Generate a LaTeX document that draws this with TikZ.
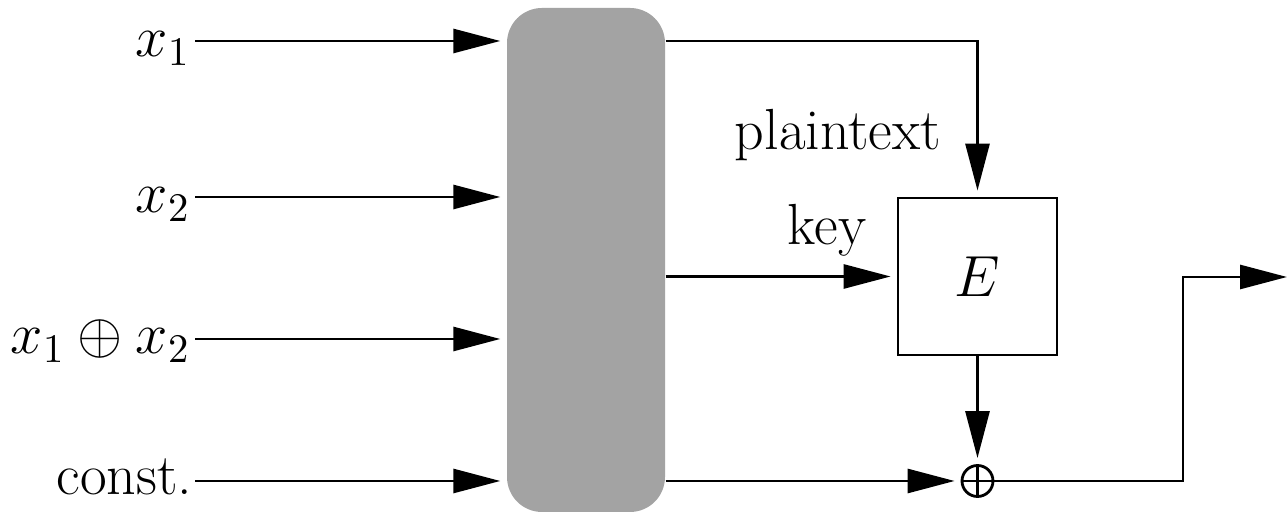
\RequirePackage{fix-cm}
\documentclass[tikz,border=0pt]{standalone}
\usepackage{fontspec}
\usetikzlibrary{arrows.meta,calc}
\definecolor{mixgray}{RGB}{163,163,163}
\tikzset{
  every node/.style={font=\fontsize{16.5}{19}\selectfont},
  arr/.style={line width=0.8pt,-{Triangle[length=0.47cm,width=0.24cm]},shorten >=0.06cm},
  conn/.style={line width=0.8pt},
  lab/.style={inner sep=0pt,anchor=base east},
  txt/.style={inner sep=0pt,anchor=base},
  mixbox/.style={fill=mixgray,draw=none,rounded corners=0.35cm,minimum width=1.58cm,minimum height=5.04cm,inner sep=0pt},
  encbox/.style={draw,line width=0.8pt,minimum width=1.59cm,minimum height=1.57cm,inner sep=0pt},
  xorop/.style={circle,draw,line width=0.8pt,minimum size=0.31cm,inner sep=0pt,
    path picture={\draw[line width=0.8pt] (path picture bounding box.north) -- (path picture bounding box.south)
      (path picture bounding box.west) -- (path picture bounding box.east);}}
}
\begin{document}
\begin{tikzpicture}
\useasboundingbox (0,0) rectangle (12.87,-5.12);
% mixing block
\node[mixbox] (mix) at (5.86,-2.60) {};
% input start points and labels
\coordinate (i1) at (1.95,-0.41);
\coordinate (i2) at (1.95,-1.97);
\coordinate (i3) at (1.95,-3.39);
\coordinate (i4) at (1.95,-4.81);
\node[lab] (l1) at (1.91,-0.57) {$x_1$};
\node[lab] (l2) at (1.91,-2.13) {$x_2$};
\node[lab] (l3) at (1.91,-3.54) {$x_1\oplus x_2$};
\node[lab] (l4) at (1.93,-4.95) {const.};
\draw[arr] (i1) -- (i1 -| mix.west);
\draw[arr] (i2) -- (i2 -| mix.west);
\draw[arr] (i3) -- (i3 -| mix.west);
\draw[arr] (i4) -- (i4 -| mix.west);
% encryption block
\node[encbox] (E) at (9.775,-2.765) {\raisebox{-2.8pt}{$E$}};
\node[xorop] (ox) at (9.775,-4.81) {};
\node[txt] (pt) at (8.38,-1.50) {plaintext};
\node[txt] (key) at (8.27,-2.45) {key};
\coordinate (out) at (12.87,-2.77);
% connectors
\draw[arr] (mix.east |- i1) -| (E.north);
\draw[arr] (mix.east |- E.west) -- (E.west);
\draw[arr] (E.south) -- (ox.north);
\draw[arr] (mix.east |- ox) -- (ox.west);
\draw[arr,shorten >=0pt] (ox.east) -| ($(out)+(-1.04,0)$) -- (out);
\end{tikzpicture}
\end{document}
